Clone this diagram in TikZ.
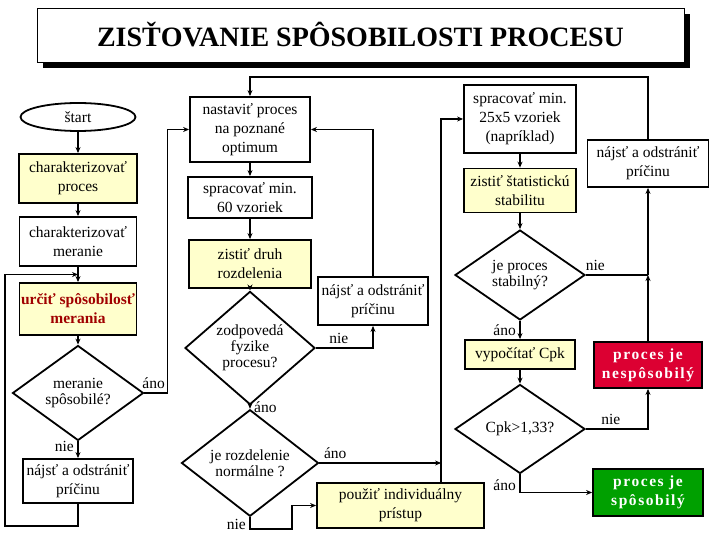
\documentclass[tikz,border=0pt]{standalone}
\usepackage{fontspec}
\setmainfont{Liberation Serif}
\newfontfamily\spacedfont[LetterSpace=10]{Liberation Serif}
\usepackage{tikz}
\usetikzlibrary{shapes.geometric, arrows.meta, positioning, calc}
\definecolor{psyellow}{RGB}{255, 255, 204}
\definecolor{psred}{RGB}{220, 0, 50}
\definecolor{psgreen}{RGB}{0, 160, 0}
\definecolor{psdark}{RGB}{160, 0, 0}
\newcommand{\chartfont}{\fontsize{15.5}{19}\selectfont}

\begin{document}
\begin{tikzpicture}[
  x=1pt, y=-1pt,
  font=\chartfont,
  pbox/.style={rectangle, draw=black, line width=1.8pt, fill=white,
               align=center, inner sep=1pt},
  ybox/.style={pbox, fill=psyellow},
  rbox/.style={pbox, fill=psred, text=white, font=\spacedfont\chartfont\bfseries},
  gbox/.style={pbox, fill=psgreen, text=white, font=\spacedfont\chartfont\bfseries},
  dec/.style={diamond, draw=black, line width=1.8pt, fill=white, align=center,
              inner sep=0pt, font=\fontsize{15.5}{16}\selectfont},
  arrow/.style={-{Stealth[length=6pt, width=5pt]}, line width=1.8pt},
  link/.style={line width=1.8pt},
]
  \fill[white] (0,0) rectangle (720,540);
  \useasboundingbox (0,0) rectangle (720,540);

  % title with shadow
  \fill[black] (43,14) rectangle (690,68);
  \node[draw, line width=0.6pt, fill=white, minimum width=647pt, minimum height=54pt,
        font=\fontsize{28}{32}\selectfont\bfseries] (title) at (360.5,35)
        {ZISŤOVANIE SPÔSOBILOSTI PROCESU};

  % left column
  \node[ellipse, draw, line width=1.8pt, minimum width=115pt, minimum height=28pt,
        inner sep=0pt] (start) at (78,117) {štart};
  \node[ybox, minimum width=118pt, minimum height=49pt] (charProc) at (78,178.5) {charakterizovať\\proces};
  \node[pbox, minimum width=117pt, minimum height=49pt] (charMer) at (78,241.5) {charakterizovať\\meranie};
  \node[ybox, minimum width=117pt, minimum height=52pt, text=psdark,
        font=\chartfont\bfseries] (urcit) at (78,309) {určiť spôsobilosť\\merania};
  \node[dec, minimum width=131pt, minimum height=90pt] (merD) at (78,393) {meranie\\spôsobilé?};
  \node[pbox, minimum width=110pt, minimum height=44pt] (najstL) at (78,481) {nájsť a odstrániť\\príčinu};

  % middle column
  \node[pbox, minimum width=120pt, minimum height=65pt] (nastavit) at (250,129.5) {nastaviť proces\\na poznané\\optimum};
  \node[pbox, minimum width=124pt, minimum height=41pt] (spr60) at (250,197.5) {spracovať min.\\60 vzoriek};
  \node[ybox, minimum width=122pt, minimum height=48pt] (druh) at (250,264) {zistiť druh\\rozdelenia};
  \node[dec, minimum width=130pt, minimum height=90pt] (fyzD) at (250,348) {zodpovedá\\fyzike\\procesu?};
  \node[pbox, minimum width=110pt, minimum height=48pt] (najstM) at (373,301) {nájsť a odstrániť\\príčinu};
  \node[dec, minimum width=137pt, minimum height=90pt] (normD) at (250,463) {je rozdelenie\\normálne ?};
  \node[ybox, minimum width=167pt, minimum height=45pt] (pouzit) at (400.5,505.5) {použiť individuálny\\prístup};

  % right column
  \node[pbox, minimum width=112pt, minimum height=68pt] (spr25) at (520,119) {spracovať min.\\25x5 vzoriek\\(napríklad)};
  \node[ybox, minimum width=112pt, minimum height=44pt] (stat) at (520,190.5) {zistiť štatistickú\\stabilitu};
  \node[dec, minimum width=130pt, minimum height=90pt] (stabD) at (520,275) {je proces\\stabilný?};
  \node[ybox, minimum width=110pt, minimum height=29pt] (cpk) at (520,354.5) {vypočítať Cpk};
  \node[dec, minimum width=130pt, minimum height=89pt] (cpkD) at (520,429) {Cpk>1,33?};
  \node[pbox, minimum width=121pt, minimum height=47pt] (najstR) at (648,163.5) {nájsť a odstrániť\\príčinu};
  \node[rbox, minimum width=108pt, minimum height=46pt] (nespos) at (648,365) {proces je\\nespôsobilý};
  \node[gbox, minimum width=110pt, minimum height=47pt] (spos) at (648,492.5) {proces je\\spôsobilý};

  \coordinate (loopJ) at ($(charMer.south)!0.5!(urcit.north)$);
  \coordinate (linkTop) at ($(spr25.west)+(-22,0)$);
  \coordinate (jnie) at (najstR.south |- stabD.east);

  \draw[arrow] (start) -- (charProc);
  \draw[arrow] (charProc) -- (charMer);
  \draw[arrow] (charMer) -- (urcit);
  \draw[arrow] (urcit) -- (merD);
  \draw[arrow] (merD) -- node[left, pos=0.3]{nie} (najstL);
  \draw[arrow] (najstL.south) -- ++(0,22) -- ++(-73,0) |- (loopJ);
  \draw[arrow] (merD.east) -- node[above, pos=0.4]{áno} ++(23,0) |- (nastavit.west);

  \draw[arrow] (najstR.north) -- ++(0,-62) -| (nastavit.north);
  \draw[arrow] (nastavit) -- (spr60);
  \draw[arrow] (spr60) -- (druh);
  \draw[arrow] (druh) -- (fyzD);
  \draw[arrow] (fyzD.east) -| node[above, pos=0.2]{nie} (najstM.south);
  \draw[arrow] (najstM.north) |- (nastavit.east);
  \draw[arrow] (fyzD) -- node[right, pos=0.4]{áno} (normD);
  \draw[arrow] (normD.east) -- node[above, pos=0.13]{áno} (normD.east -| linkTop);
  \draw[arrow] (normD.south) -- node[left, pos=0.6]{nie} ++(0,12) -- ++(42,0) |- (pouzit.west);
  \draw[arrow] (linkTop |- pouzit.north) -- (linkTop) -- (spr25.west);

  \draw[arrow] (spr25) -- (stat);
  \draw[arrow] (stat) -- (stabD);
  \draw[link] (stabD.east) -- node[above, pos=0.15]{nie} (jnie);
  \draw[arrow] (nespos.north) -- (jnie);
  \draw[arrow] (jnie) -- (najstR.south);
  \draw[arrow] (stabD) -- node[left, pos=0.5]{áno} (cpk);
  \draw[arrow] (cpk) -- (cpkD);
  \draw[arrow] (cpkD.east) -| node[above, pos=0.2]{nie} (nespos.south);
  \draw[arrow] (cpkD.south) |- node[left, pos=0.3]{áno} (spos.west);
\end{tikzpicture}
\end{document}
